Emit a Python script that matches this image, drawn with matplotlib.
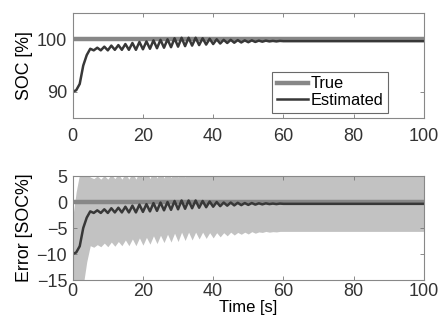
import numpy as np
import matplotlib
matplotlib.use("Agg")
import matplotlib.pyplot as plt

plt.rcParams['font.family'] = ['Liberation Sans', 'DejaVu Sans']

# time points [s]: every second up to 60 s, then the flat tail
t = list(range(0, 61)) + [70, 80, 90, 100]

true_soc = [100.0] * len(t)

est_soc = [90.0, 90.3, 91.5, 95.0, 97.0, 98.2, 97.9, 98.4, 97.9, 98.6,
           97.9, 98.8, 98.0, 98.9, 98.0, 99.1, 98.0, 99.3, 98.0, 99.5,
           98.1, 99.6, 98.2, 99.8, 98.3, 99.9, 98.4, 100.0, 98.5, 100.2,
           98.6, 100.3, 98.7, 100.3, 98.8, 100.3, 98.9, 100.2, 99.0, 100.1,
           99.1, 100.0, 99.2, 99.9, 99.3, 99.9, 99.35, 99.85, 99.4, 99.8,
           99.45, 99.8, 99.5, 99.75, 99.55, 99.75, 99.6, 99.7, 99.6, 99.7,
           99.65, 99.65, 99.65, 99.65, 99.65]

# half width of the confidence band [SOC%]
band = [7.0, 11.7, 14.0, 11.0, 8.5, 6.6, 6.6, 6.6, 6.5, 6.5,
        6.5, 6.5, 6.5, 6.5, 6.4, 6.4, 6.4, 6.4, 6.4, 6.4,
        6.4, 6.4, 6.3, 6.3, 6.3, 6.3, 6.2, 6.2, 6.2, 6.2,
        6.2, 6.1, 6.1, 6.1, 6.1, 6.1, 6.0, 6.0, 6.0, 6.0,
        6.0, 5.9, 5.9, 5.8, 5.8, 5.7, 5.7, 5.7, 5.6, 5.6,
        5.6, 5.5, 5.5, 5.5, 5.4, 5.4, 5.4, 5.4, 5.35, 5.35,
        5.3, 5.3, 5.3, 5.3, 5.3]

t = np.array(t)
err = np.array(est_soc) - np.array(true_soc)
band = np.array(band)

fig = plt.figure(figsize=(4.39, 3.27), dpi=100)
ax1 = fig.add_axes([0.1656, 0.639, 0.800, 0.321])
ax2 = fig.add_axes([0.1656, 0.1437, 0.800, 0.318])

c_true = '#878787'
c_est = '#383838'
c_band = '#c2c2c2'

ax1.plot(t, true_soc, color=c_true, lw=3.2, label='True')
ax1.plot(t, est_soc, color=c_est, lw=1.8, label='Estimated')
ax1.set_xlim(0, 100)
ax1.set_ylim(85, 105)
ax1.set_yticks([90, 100])
ax1.set_xticks([0, 20, 40, 60, 80, 100])
ax1.set_ylabel('SOC [%]', fontsize=12.8)
ax1.yaxis.set_label_coords(-0.113, 0.5)
leg = ax1.legend(loc='lower right', bbox_to_anchor=(0.8975, 0.048), fontsize=11.8,
                 frameon=True, fancybox=False, handlelength=1.9, handletextpad=0.15,
                 borderpad=0.3, labelspacing=0.1, borderaxespad=0)
leg.get_frame().set_edgecolor('#444444')
leg.get_frame().set_linewidth(0.8)

ax2.fill_between(t, err - band, err + band, color=c_band, lw=0)
ax2.plot(t, np.zeros(len(t)), color=c_true, lw=3.2)
ax2.plot(t, err, color=c_est, lw=1.8)
ax2.set_xlim(0, 100)
ax2.set_ylim(-15, 5)
ax2.set_yticks([-15, -10, -5, 0, 5])
ax2.set_xticks([0, 20, 40, 60, 80, 100])
ax2.set_ylabel('Error [SOC%]', fontsize=12.8)
ax2.yaxis.set_label_coords(-0.113, 0.5)
ax2.set_xlabel('Time [s]', fontsize=12, labelpad=0)

for ax, xpad in ((ax1, 7), (ax2, 2)):
    ax.tick_params(direction='in', top=True, right=True, labelsize=13,
                   length=3, width=0.6, color='#777777', labelcolor='#333333')
    ax.tick_params(axis='x', pad=xpad)
    ax.tick_params(axis='y', pad=4)
    for s in ax.spines.values():
        s.set_color('#888888')
        s.set_linewidth(0.8)

fig.savefig('out.png', dpi=100)
